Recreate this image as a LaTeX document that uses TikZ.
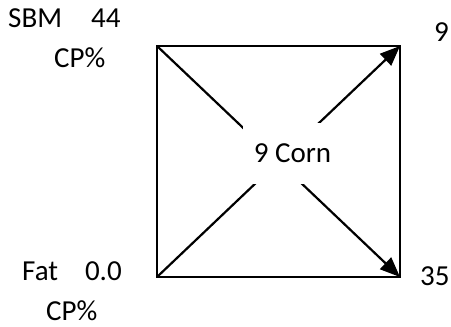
\documentclass[tikz,border=0pt]{standalone}
\usepackage{fontspec}
\setmainfont{Carlito}
\usetikzlibrary{arrows.meta}
\begin{document}
\begin{tikzpicture}[x=1pt,y=-1pt,
  edge/.style={line width=2.2pt},
  arr/.style={line width=2.2pt,-{Triangle[length=20pt,width=16pt]}},
  lbl/.style={anchor=base west,inner sep=0pt,font=\fontsize{29}{34}\selectfont},
  centerlbl/.style={fill=white,inner sep=0pt,minimum width=100pt,minimum height=61pt,font=\fontsize{29}{34}\selectfont}]
\useasboundingbox (0,0) rectangle (451,327);
\coordinate (tl) at (157,46);
\coordinate (tr) at (400,46);
\coordinate (bl) at (157,277);
\coordinate (br) at (400,277);
\draw[edge] (tl) -- (tr) -- (br) -- (bl) -- cycle;
\draw[arr] (tl) -- (br);
\draw[arr] (bl) -- (tr);
\node[centerlbl] (corn) at (292.5,153.5) {9 Corn};
\node[lbl] (sbm) at (8,27) {SBM\hspace{29pt}44};
\node[lbl] (cpa) at (54,67) {CP\%};
\node[lbl] (fat) at (22,280) {Fat\hspace{27pt}0.0};
\node[lbl] (cpb) at (46,320) {CP\%};
\node[lbl] (nine) at (434,41) {9};
\node[lbl] (tf) at (420,285) {35};
\end{tikzpicture}
\end{document}
